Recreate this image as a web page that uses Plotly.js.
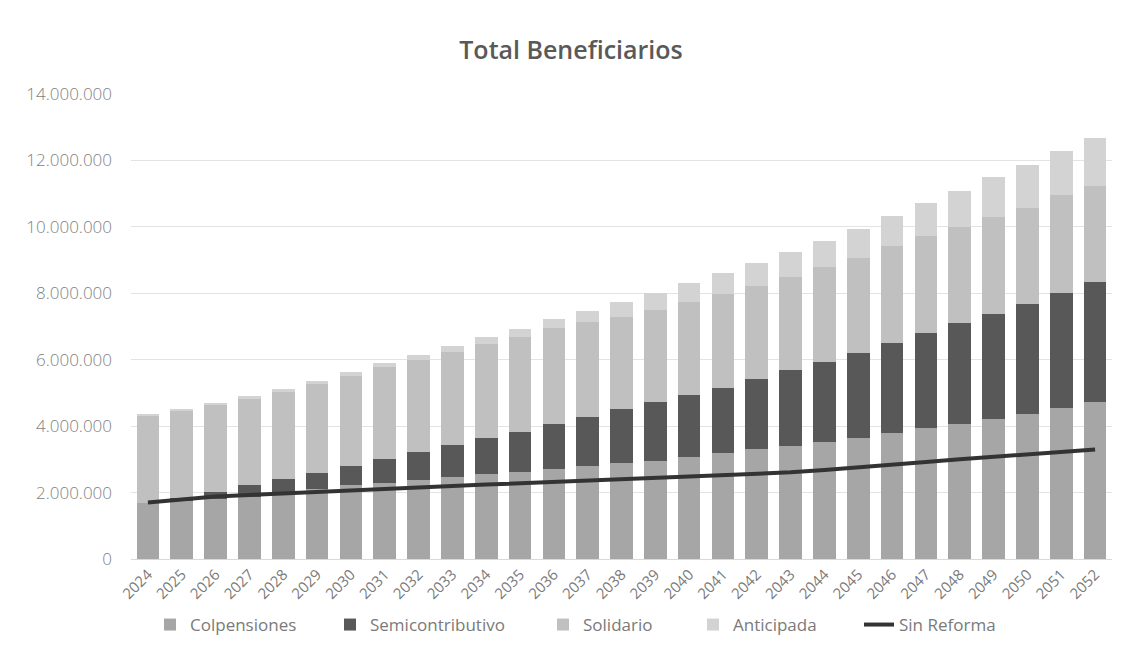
<!DOCTYPE html>
<html>
<head>
<meta charset="utf-8">
<script src="https://cdn.plot.ly/plotly-3.0.1.min.js"></script>
<style>
  html, body { margin: 0; padding: 0; background: #ffffff; }
  #chart { width: 1126px; height: 672px; }
</style>
</head>
<body>
<div id="chart"></div>
<script>
const years = ["2024","2025","2026","2027","2028","2029","2030","2031","2032","2033","2034","2035","2036","2037","2038","2039","2040","2041","2042","2043","2044","2045","2046","2047","2048","2049","2050","2051","2052"];

const colpensiones = [1700000,1740000,1800000,1880000,2020000,2120000,2220000,2300000,2390000,2480000,2550000,2630000,2700000,2800000,2880000,2960000,3080000,3180000,3310000,3400000,3520000,3640000,3780000,3930000,4060000,4210000,4380000,4540000,4720000];

const semicontributivo = [0,100000,230000,350000,390000,480000,580000,720000,820000,940000,1090000,1200000,1360000,1490000,1630000,1780000,1860000,1980000,2100000,2280000,2400000,2560000,2720000,2870000,3040000,3160000,3300000,3480000,3610000];

const solidario = [2620000,2610000,2600000,2600000,2620000,2660000,2720000,2750000,2770000,2820000,2830000,2850000,2880000,2840000,2790000,2760000,2810000,2810000,2810000,2810000,2860000,2860000,2910000,2910000,2910000,2940000,2880000,2940000,2900000];

const anticipada = [50000,60000,80000,90000,100000,110000,120000,140000,160000,180000,210000,240000,280000,350000,450000,500000,570000,650000,700000,740000,800000,870000,920000,1000000,1080000,1190000,1310000,1330000,1440000];

const sinReforma = [1700000,1800000,1880000,1930000,1980000,2030000,2070000,2110000,2150000,2200000,2240000,2280000,2320000,2360000,2400000,2440000,2480000,2520000,2560000,2610000,2680000,2750000,2820000,2920000,3000000,3070000,3140000,3220000,3300000];

const yTicks = [0,2000000,4000000,6000000,8000000,10000000,12000000,14000000];

const fontFam = "Open Sans, Lato, sans-serif";

function barTrace(name, vals, color, leg) {
  return {
    type: "bar", name: name, x: years, y: vals, legend: leg,
    marker: { color: color, line: { width: 0 } },
    hoverinfo: "x+y+name"
  };
}

const data = [
  barTrace("Colpensiones", colpensiones, "#a6a6a6", "legend"),
  barTrace("Semicontributivo", semicontributivo, "#585858", "legend2"),
  barTrace("Solidario", solidario, "#c0c0c0", "legend3"),
  barTrace("Anticipada", anticipada, "#d3d3d3", "legend4"),
  {
    type: "scatter", mode: "lines", name: "Sin Reforma", legend: "legend5",
    x: years, y: sinReforma,
    line: { color: "#333333", width: 4 }
  }
];

const plotL = 131, plotW = 1126 - 131 - 14;
function legAt(px) {
  return {
    orientation: "h",
    x: (px - plotL) / plotW, xanchor: "left",
    y: -66/465, yanchor: "middle",
    font: { size: 17, color: "#7a7a7a" },
    bgcolor: "rgba(0,0,0,0)",
    itemwidth: 30
  };
}

const layout = {
  width: 1126, height: 672,
  paper_bgcolor: "#ffffff", plot_bgcolor: "#ffffff",
  separators: ",.",
  barmode: "stack",
  bargap: 0.33,
  margin: { l: plotL, r: 14, t: 94, b: 113, pad: 0 },
  title: {
    text: "Total Beneficiarios",
    x: 571/1126, xanchor: "center", xref: "container",
    y: 1 - 50/672, yanchor: "middle", yref: "container",
    font: { family: fontFam, size: 25, color: "#595959", weight: 600 }
  },
  font: { family: fontFam, color: "#7f7f7f" },
  xaxis: {
    type: "category",
    tickangle: -45,
    tickfont: { size: 15, color: "#7a7a7a" },
    showgrid: false, zeroline: false,
    showline: true, linecolor: "#d9d9d9", linewidth: 1,
    ticks: "", automargin: false
  },
  yaxis: {
    range: [0, 14000000],
    tickvals: yTicks,
    tickformat: ",d",
    tickfont: { size: 17, color: "#7f7f7f", weight: 300 },
    showgrid: true, gridcolor: "#e3e3e3", gridwidth: 1,
    zeroline: false, showline: false, ticks: "",
    ticklabelstandoff: 18, automargin: false
  },
  legend: legAt(150),
  legend2: legAt(330),
  legend3: legAt(543),
  legend4: legAt(693),
  legend5: legAt(859),
  showlegend: true
};

Plotly.newPlot("chart", data, layout, { displayModeBar: false, staticPlot: true });
</script>
</body>
</html>
